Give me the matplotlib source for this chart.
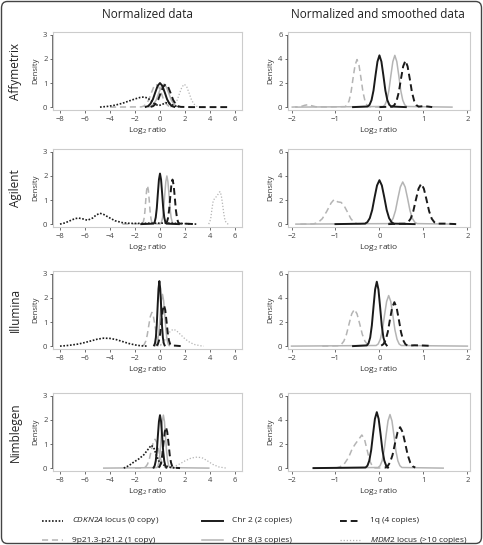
import matplotlib
matplotlib.use('Agg')
import matplotlib.pyplot as plt
from matplotlib.lines import Line2D
from matplotlib.patches import FancyBboxPatch, Rectangle

plt.rcParams['font.family'] = ['Open Sans', 'DejaVu Sans']
plt.rcParams['mathtext.fontset'] = 'custom'
plt.rcParams['mathtext.rm'] = 'Open Sans'
plt.rcParams['mathtext.it'] = 'Open Sans:italic'

platforms = ['Affymetrix', 'Agilent', 'Illumina', 'Nimblegen']
col_titles = ['Normalized data', 'Normalized and smoothed data']
norm_xticks = [-8, -6, -4, -2, 0, 2, 4, 6]
norm_yticks = [0, 1, 2, 3]
smooth_xticks = [-2, -1, 0, 1, 2]
smooth_yticks = [0, 2, 4, 6]

series_names = ['p21', 'chr8', 'mdm2', 'cdkn2a', 'chr2', 'q1']
legend_labels = {
    'cdkn2a': r'$\it{CDKN2A}$ locus (0 copy)',
    'p21': '9p21.3-p21.2 (1 copy)',
    'chr2': 'Chr 2 (2 copies)',
    'chr8': 'Chr 8 (3 copies)',
    'q1': '1q (4 copies)',
    'mdm2': r'$\it{MDM2}$ locus (>10 copies)',
}

# ---- Affymetrix, normalized ----
affy_norm_cdkn2a = [(-4.8, 0), (-4.2, 0.03), (-3.6, 0.08), (-3.0, 0.16), (-2.5, 0.25), (-2.0, 0.34),
                    (-1.6, 0.40), (-1.3, 0.42), (-1.0, 0.38), (-0.7, 0.26), (-0.4, 0.12), (-0.1, 0.06),
                    (0.2, 0.12), (0.5, 0.18), (0.8, 0.15), (1.1, 0.06), (1.5, 0.01)]
affy_norm_p21 = [(-4.0, 0), (-1.5, 0.01), (-1.3, 0.04), (-1.1, 0.13), (-0.9, 0.30), (-0.7, 0.58), (-0.5, 0.84),
                 (-0.3, 0.95), (-0.1, 0.84), (0.1, 0.58), (0.3, 0.30), (0.5, 0.13), (0.7, 0.04), (0.9, 0.01)]
affy_norm_chr2 = [(-1.14, 0.01), (-0.95, 0.04), (-0.76, 0.14), (-0.57, 0.32), (-0.38, 0.61), (-0.19, 0.88),
                  (0, 1.0), (0.19, 0.88), (0.38, 0.61), (0.57, 0.32), (0.76, 0.14), (0.95, 0.04), (1.14, 0.01)]
affy_norm_chr8 = [(-0.9, 0.01), (-0.7, 0.04), (-0.5, 0.13), (-0.3, 0.30), (-0.1, 0.58), (0.1, 0.84),
                  (0.3, 0.95), (0.5, 0.84), (0.7, 0.58), (0.9, 0.30), (1.1, 0.13), (1.3, 0.04), (1.5, 0.01)]
affy_norm_q1 = [(-0.75, 0.01), (-0.55, 0.04), (-0.35, 0.13), (-0.15, 0.30), (0.05, 0.58), (0.25, 0.84),
                (0.45, 0.95), (0.65, 0.84), (0.85, 0.58), (1.05, 0.30), (1.25, 0.13), (1.45, 0.04),
                (1.65, 0.01), (2.5, 0), (5.5, 0)]
affy_norm_mdm2 = [(0.81, 0.01), (1.0, 0.04), (1.19, 0.13), (1.38, 0.30), (1.57, 0.58), (1.76, 0.84),
                  (1.95, 0.95), (2.14, 0.84), (2.33, 0.58), (2.52, 0.30), (2.71, 0.13), (2.9, 0.04),
                  (3.09, 0.01), (3.5, 0)]

# ---- Affymetrix, smoothed ----
affy_smooth_p21 = [(-2.0, 0), (-1.8, 0.03), (-1.7, 0.15), (-1.63, 0.2), (-1.55, 0.12), (-1.45, 0.03),
                   (-1.2, 0.01), (-0.78, 0.04), (-0.735, 0.17), (-0.69, 0.53), (-0.645, 1.26), (-0.6, 2.41),
                   (-0.555, 3.48), (-0.51, 3.95), (-0.465, 3.48), (-0.42, 2.41), (-0.375, 1.26),
                   (-0.33, 0.53), (-0.285, 0.17), (-0.24, 0.04), (0.0, 0)]
affy_smooth_chr2 = [(-0.6, 0), (-0.27, 0.05), (-0.225, 0.19), (-0.18, 0.58), (-0.135, 1.38), (-0.09, 2.62),
                    (-0.045, 3.78), (0, 4.3), (0.045, 3.78), (0.09, 2.62), (0.135, 1.38), (0.18, 0.58),
                    (0.225, 0.19), (0.27, 0.05), (0.6, 0)]
affy_smooth_chr8 = [(-1.9, 0), (0.08, 0.05), (0.125, 0.19), (0.17, 0.58), (0.215, 1.38), (0.26, 2.62),
                    (0.305, 3.78), (0.35, 4.3), (0.395, 3.78), (0.44, 2.62), (0.485, 1.38), (0.53, 0.58),
                    (0.575, 0.19), (0.62, 0.05), (1.65, 0)]
affy_smooth_q1 = [(0.0, 0), (0.29, 0.04), (0.34, 0.17), (0.39, 0.52), (0.44, 1.23), (0.49, 2.35),
                  (0.54, 3.39), (0.59, 3.85), (0.64, 3.39), (0.69, 2.35), (0.74, 1.23), (0.79, 0.52),
                  (0.84, 0.17), (0.89, 0.04), (1.0, 0.08), (1.1, 0.05), (1.2, 0)]

# ---- Agilent, normalized ----
agil_norm_cdkn2a = [(-8.0, 0), (-7.6, 0.05), (-7.2, 0.14), (-6.8, 0.23), (-6.5, 0.25), (-6.2, 0.22),
                    (-5.8, 0.16), (-5.4, 0.25), (-5.1, 0.38), (-4.8, 0.45), (-4.5, 0.40), (-4.1, 0.28),
                    (-3.6, 0.14), (-3.0, 0.06), (-2.4, 0.03), (-1.5, 0.03), (-0.5, 0.04), (0.5, 0.04),
                    (1.5, 0.03), (2.9, 0)]
agil_norm_p21 = [(-3.0, 0), (-1.42, 0.02), (-1.35, 0.07), (-1.28, 0.22), (-1.21, 0.51), (-1.14, 0.98),
                 (-1.07, 1.41), (-1.0, 1.6), (-0.93, 1.41), (-0.86, 0.98), (-0.79, 0.51), (-0.72, 0.22),
                 (-0.65, 0.07), (-0.58, 0.02), (0.0, 0)]
agil_norm_chr2 = [(-1.5, 0), (-0.51, 0.02), (-0.425, 0.09), (-0.34, 0.28), (-0.255, 0.67), (-0.17, 1.28),
                  (-0.085, 1.85), (0, 2.1), (0.085, 1.85), (0.17, 1.28), (0.255, 0.67), (0.34, 0.28),
                  (0.425, 0.09), (0.51, 0.02), (1.5, 0)]
agil_norm_chr8 = [(0.04, 0.02), (0.125, 0.09), (0.21, 0.27), (0.295, 0.64), (0.38, 1.22), (0.465, 1.76),
                  (0.55, 2.0), (0.635, 1.76), (0.72, 1.22), (0.805, 0.64), (0.89, 0.27), (0.975, 0.09),
                  (1.06, 0.02)]
agil_norm_q1 = [(0.46, 0.02), (0.55, 0.08), (0.64, 0.25), (0.73, 0.59), (0.82, 1.13), (0.91, 1.63),
                (1.0, 1.85), (1.09, 1.63), (1.18, 1.13), (1.27, 0.59), (1.36, 0.25), (1.45, 0.08),
                (1.54, 0.02), (2.0, 0.02), (2.8, 0)]
agil_norm_mdm2 = [(3.9, 0), (4.05, 0.2), (4.15, 0.6), (4.25, 0.95), (4.4, 1.1), (4.55, 1.15), (4.7, 1.3),
                  (4.8, 1.35), (4.9, 1.2), (5.0, 0.85), (5.1, 0.45), (5.2, 0.15), (5.35, 0.02), (5.5, 0)]

# ---- Agilent, smoothed ----
agil_smooth_p21 = [(-1.8, 0), (-1.5, 0.02), (-1.4, 0.12), (-1.3, 0.45), (-1.2, 1.05), (-1.1, 1.75),
                   (-1.03, 2.05), (-0.95, 1.85), (-0.87, 1.8), (-0.8, 1.5), (-0.72, 0.95), (-0.65, 0.45),
                   (-0.57, 0.12), (-0.5, 0.02), (-0.3, 0)]
agil_smooth_chr2 = [(-1.0, 0), (-0.33, 0.04), (-0.275, 0.16), (-0.22, 0.49), (-0.165, 1.17), (-0.11, 2.23),
                    (-0.055, 3.21), (0, 3.65), (0.055, 3.21), (0.11, 2.23), (0.165, 1.17), (0.22, 0.49),
                    (0.275, 0.16), (0.33, 0.04), (0.8, 0)]
agil_smooth_chr8 = [(-1.9, 0), (0.2, 0.04), (0.255, 0.15), (0.31, 0.47), (0.365, 1.12), (0.42, 2.14),
                    (0.475, 3.08), (0.53, 3.5), (0.585, 3.08), (0.64, 2.14), (0.695, 1.12), (0.75, 0.47),
                    (0.805, 0.15), (0.86, 0.04), (1.7, 0)]
agil_smooth_q1 = [(0.2, 0), (0.59, 0.04), (0.65, 0.15), (0.71, 0.45), (0.77, 1.07), (0.83, 2.04),
                  (0.89, 2.95), (0.95, 3.35), (1.01, 2.95), (1.07, 2.04), (1.13, 1.07), (1.19, 0.45),
                  (1.25, 0.15), (1.31, 0.04), (1.5, 0.04), (1.75, 0)]

# ---- Illumina, normalized ----
illu_norm_cdkn2a = [(-8.0, 0), (-7.5, 0.02), (-7.0, 0.05), (-6.5, 0.09), (-6.0, 0.15), (-5.5, 0.22),
                    (-5.0, 0.29), (-4.5, 0.33), (-4.0, 0.32), (-3.5, 0.27), (-3.0, 0.19), (-2.5, 0.11),
                    (-2.0, 0.05), (-1.5, 0.01), (-1.0, 0)]
illu_norm_p21 = [(-1.4, 0.02), (-1.275, 0.06), (-1.15, 0.19), (-1.025, 0.45), (-0.9, 0.85), (-0.775, 1.23),
                 (-0.65, 1.4), (-0.525, 1.23), (-0.4, 0.85), (-0.275, 0.45), (-0.15, 0.19), (-0.025, 0.06),
                 (0.1, 0.02)]
illu_norm_chr2 = [(-0.47, 0.03), (-0.4, 0.12), (-0.33, 0.36), (-0.26, 0.86), (-0.19, 1.65), (-0.12, 2.38),
                  (-0.05, 2.7), (0.02, 2.38), (0.09, 1.65), (0.16, 0.86), (0.23, 0.36), (0.3, 0.12),
                  (0.37, 0.03)]
illu_norm_chr8 = [(-0.34, 0.02), (-0.25, 0.09), (-0.16, 0.29), (-0.07, 0.69), (0.02, 1.31), (0.11, 1.89),
                  (0.2, 2.15), (0.29, 1.89), (0.38, 1.31), (0.47, 0.69), (0.56, 0.29), (0.65, 0.09),
                  (0.74, 0.02)]
illu_norm_q1 = [(-0.28, 0.02), (-0.18, 0.07), (-0.08, 0.23), (0.02, 0.54), (0.12, 1.04), (0.22, 1.5),
                (0.32, 1.7), (0.42, 1.5), (0.52, 1.04), (0.62, 0.54), (0.72, 0.23), (0.82, 0.07),
                (0.92, 0.02), (1.2, 0.02), (1.7, 0)]
illu_norm_mdm2 = [(-0.2, 0), (0.2, 0.1), (0.5, 0.35), (0.8, 0.6), (1.05, 0.7), (1.3, 0.65), (1.6, 0.5),
                  (2.0, 0.3), (2.4, 0.15), (2.8, 0.06), (3.3, 0.01), (3.5, 0)]

# ---- Illumina, smoothed ----
illu_smooth_p21 = [(-1.3, 0), (-0.93, 0.03), (-0.87, 0.13), (-0.81, 0.41), (-0.75, 0.98), (-0.69, 1.86),
                   (-0.63, 2.68), (-0.57, 3.05), (-0.51, 2.68), (-0.45, 1.86), (-0.39, 0.98), (-0.33, 0.41),
                   (-0.27, 0.13), (-0.21, 0.03)]
illu_smooth_chr2 = [(-0.6, 0), (-0.285, 0.06), (-0.248, 0.24), (-0.21, 0.72), (-0.173, 1.71), (-0.135, 3.26),
                    (-0.098, 4.71), (-0.06, 5.35), (-0.023, 4.71), (0.015, 3.26), (0.053, 1.71), (0.09, 0.72),
                    (0.128, 0.24), (0.165, 0.06)]
illu_smooth_chr8 = [(-2.0, 0), (-0.075, 0.05), (-0.028, 0.18), (0.02, 0.57), (0.068, 1.34), (0.115, 2.56),
                    (0.163, 3.7), (0.21, 4.2), (0.258, 3.7), (0.305, 2.56), (0.353, 1.34), (0.4, 0.57),
                    (0.448, 0.18), (0.495, 0.05), (2.0, 0)]
illu_smooth_q1 = [(0.04, 0.04), (0.09, 0.16), (0.14, 0.49), (0.19, 1.17), (0.24, 2.23), (0.29, 3.21),
                  (0.34, 3.65), (0.39, 3.21), (0.44, 2.23), (0.49, 1.17), (0.54, 0.49), (0.59, 0.16),
                  (0.64, 0.04), (0.8, 0.07), (1.0, 0.05), (1.18, 0.02)]

# ---- Nimblegen, normalized ----
nimb_norm_cdkn2a = [(-2.9, 0), (-2.5, 0.1), (-2.1, 0.25), (-1.7, 0.38), (-1.3, 0.55), (-1.0, 0.75),
                    (-0.7, 0.95), (-0.5, 0.85), (-0.3, 0.55), (-0.1, 0.3), (0.1, 0.18), (0.4, 0.1),
                    (0.8, 0.04), (1.2, 0)]
nimb_norm_p21 = [(-2.0, 0), (-1.3, 0.01), (-1.15, 0.05), (-1.0, 0.16), (-0.85, 0.38), (-0.7, 0.73),
                 (-0.55, 1.06), (-0.4, 1.2), (-0.25, 1.06), (-0.1, 0.73), (0.05, 0.38), (0.2, 0.16),
                 (0.35, 0.05), (0.5, 0.01)]
nimb_norm_chr2 = [(-0.51, 0.02), (-0.425, 0.1), (-0.34, 0.3), (-0.255, 0.7), (-0.17, 1.34), (-0.085, 1.94),
                  (0, 2.2), (0.085, 1.94), (0.17, 1.34), (0.255, 0.7), (0.34, 0.3), (0.425, 0.1), (0.51, 0.02)]
nimb_norm_chr8 = [(-4.5, 0), (-0.24, 0.02), (-0.155, 0.1), (-0.07, 0.3), (0.015, 0.7), (0.1, 1.34),
                  (0.185, 1.94), (0.27, 2.2), (0.355, 1.94), (0.44, 1.34), (0.525, 0.7), (0.61, 0.3),
                  (0.695, 0.1), (0.78, 0.02), (3.9, 0)]
nimb_norm_q1 = [(-0.12, 0.02), (-0.02, 0.07), (0.08, 0.23), (0.18, 0.54), (0.28, 1.04), (0.38, 1.5),
                (0.48, 1.7), (0.58, 1.5), (0.68, 1.04), (0.78, 0.54), (0.88, 0.23), (0.98, 0.07),
                (1.08, 0.02), (1.6, 0)]
nimb_norm_mdm2 = [(0.8, 0), (1.2, 0.08), (1.6, 0.18), (2.0, 0.3), (2.5, 0.42), (3.0, 0.46), (3.4, 0.42),
                  (3.8, 0.3), (4.2, 0.16), (4.7, 0.05), (5.3, 0)]

# ---- Nimblegen, smoothed ----
nimb_smooth_p21 = [(-1.0, 0), (-0.9, 0.1), (-0.8, 0.35), (-0.7, 0.9), (-0.62, 1.6), (-0.55, 2.0),
                   (-0.48, 2.35), (-0.4, 2.75), (-0.34, 2.4), (-0.28, 1.5), (-0.22, 0.6), (-0.16, 0.15),
                   (-0.1, 0.02), (0.2, 0)]
nimb_smooth_chr2 = [(-1.5, 0), (-0.315, 0.05), (-0.273, 0.2), (-0.23, 0.63), (-0.188, 1.49), (-0.145, 2.84),
                    (-0.103, 4.09), (-0.06, 4.65), (-0.018, 4.09), (0.025, 2.84), (0.068, 1.49), (0.11, 0.63),
                    (0.153, 0.2), (0.195, 0.05)]
nimb_smooth_chr8 = [(-1.5, 0), (-0.03, 0.05), (0.015, 0.2), (0.06, 0.6), (0.105, 1.42), (0.15, 2.71),
                    (0.195, 3.92), (0.24, 4.45), (0.285, 3.92), (0.33, 2.71), (0.375, 1.42), (0.42, 0.6),
                    (0.465, 0.2), (0.51, 0.05), (1.45, 0)]
nimb_smooth_q1 = [(0.125, 0.04), (0.183, 0.15), (0.24, 0.46), (0.298, 1.09), (0.355, 2.07), (0.413, 2.99),
                  (0.47, 3.4), (0.528, 2.99), (0.585, 2.07), (0.643, 1.09), (0.7, 0.46), (0.758, 0.15),
                  (0.815, 0.04)]

panels_norm = [
    {'cdkn2a': affy_norm_cdkn2a, 'p21': affy_norm_p21, 'chr2': affy_norm_chr2,
     'chr8': affy_norm_chr8, 'q1': affy_norm_q1, 'mdm2': affy_norm_mdm2},
    {'cdkn2a': agil_norm_cdkn2a, 'p21': agil_norm_p21, 'chr2': agil_norm_chr2,
     'chr8': agil_norm_chr8, 'q1': agil_norm_q1, 'mdm2': agil_norm_mdm2},
    {'cdkn2a': illu_norm_cdkn2a, 'p21': illu_norm_p21, 'chr2': illu_norm_chr2,
     'chr8': illu_norm_chr8, 'q1': illu_norm_q1, 'mdm2': illu_norm_mdm2},
    {'cdkn2a': nimb_norm_cdkn2a, 'p21': nimb_norm_p21, 'chr2': nimb_norm_chr2,
     'chr8': nimb_norm_chr8, 'q1': nimb_norm_q1, 'mdm2': nimb_norm_mdm2},
]
panels_smooth = [
    {'p21': affy_smooth_p21, 'chr2': affy_smooth_chr2, 'chr8': affy_smooth_chr8, 'q1': affy_smooth_q1},
    {'p21': agil_smooth_p21, 'chr2': agil_smooth_chr2, 'chr8': agil_smooth_chr8, 'q1': agil_smooth_q1},
    {'p21': illu_smooth_p21, 'chr2': illu_smooth_chr2, 'chr8': illu_smooth_chr8, 'q1': illu_smooth_q1},
    {'p21': nimb_smooth_p21, 'chr2': nimb_smooth_chr2, 'chr8': nimb_smooth_chr8, 'q1': nimb_smooth_q1},
]

BLACK = '#1a1a1a'
GRAY = '#b4b4b4'
styles = {
    'cdkn2a': dict(color=BLACK, lw=1.2, ls=(0, (1, 1))),
    'p21': dict(color=GRAY, lw=1.1, ls=(0, (4, 2.5))),
    'chr2': dict(color=BLACK, lw=1.4, ls='-'),
    'chr8': dict(color=GRAY, lw=1.1, ls='-'),
    'q1': dict(color=BLACK, lw=1.4, ls=(0, (3.5, 2))),
    'mdm2': dict(color=GRAY, lw=0.9, ls=(0, (1, 1.5))),
}

W, H = 483, 545
fig = plt.figure(figsize=(W / 100, H / 100), dpi=100)

row_boxes = [(32, 110), (149, 227), (271, 349), (393, 471)]
col_boxes = [(53, 242), (288, 470)]


def style_axes(ax, xticks, yticks):
    for s in ['top', 'right', 'left', 'bottom']:
        ax.spines[s].set_color('#cccccc')
        ax.spines[s].set_linewidth(0.8)
    ax.set_xticks(xticks)
    ax.set_yticks(yticks)
    ax.tick_params(axis='both', length=2.5, width=0.6, color='#555555', labelsize=5.5,
                   labelcolor='#444444', pad=1.5)
    ax.set_xlabel('Log$_2$ ratio', fontsize=6, color='#333333', labelpad=2)
    ax.set_ylabel('Density', fontsize=5.5, color='#333333', labelpad=3)
    # dark axis lines like R's axis() next to the light box
    ax.plot([xticks[0], xticks[-1]], [0, 0], transform=ax.get_xaxis_transform(), alpha=0)
    ax.add_line(Line2D([xticks[0], xticks[-1]], [-0.005, -0.005], transform=ax.get_xaxis_transform(),
                       color='#555555', lw=0.6, clip_on=False))
    ax.add_line(Line2D([-0.005, -0.005], [yticks[0], yticks[-1]], transform=ax.get_yaxis_transform(),
                       color='#555555', lw=0.6, clip_on=False))


for r in range(4):
    y0, y1 = row_boxes[r]
    for c in range(2):
        x0, x1 = col_boxes[c]
        ax = fig.add_axes([x0 / W, 1 - y1 / H, (x1 - x0) / W, (y1 - y0) / H])
        data = panels_norm[r] if c == 0 else panels_smooth[r]
        for name in series_names:
            if name not in data:
                continue
            pts = data[name]
            ax.plot([p[0] for p in pts], [p[1] for p in pts], **styles[name])
        if c == 0:
            ax.set_xlim(-8.56, 6.56)
            ax.set_ylim(-0.12, 3.12)
            style_axes(ax, norm_xticks, norm_yticks)
        else:
            ax.set_xlim(-2.08, 2.06)
            ax.set_ylim(-0.24, 6.24)
            style_axes(ax, smooth_xticks, smooth_yticks)
    fig.text(15 / W, 1 - (y0 + y1) / 2 / H, platforms[r], rotation=90, ha='center', va='center',
             fontsize=8.5, color='#222222')

fig.text(147 / W, 1 - 14 / H, col_titles[0], ha='center', va='center', fontsize=8.5, color='#222222')
fig.text(378 / W, 1 - 14 / H, col_titles[1], ha='center', va='center', fontsize=8.5, color='#222222')

# legend, laid out by hand in three columns
legend_cols = [['cdkn2a', 'p21'], ['chr2', 'chr8'], ['q1', 'mdm2']]
legend_x = [42, 202, 340]
legend_y = [521, 540]
for ci, names in enumerate(legend_cols):
    for ri, name in enumerate(names):
        x = legend_x[ci]
        y = 1 - legend_y[ri] / H
        fig.add_artist(Line2D([x / W, (x + 21) / W], [y, y], transform=fig.transFigure, **styles[name]))
        fig.text((x + 30) / W, y, legend_labels[name], ha='left', va='center', fontsize=6, color='#222222')

fig.add_artist(FancyBboxPatch((1.5 / W, 1.5 / H), (W - 3) / W, (H - 3) / H,
                              boxstyle='round,pad=0,rounding_size=0.012', transform=fig.transFigure,
                              fill=False, edgecolor='#444444', lw=1.0))

plt.savefig('out.png', dpi=100)
plt.close()
